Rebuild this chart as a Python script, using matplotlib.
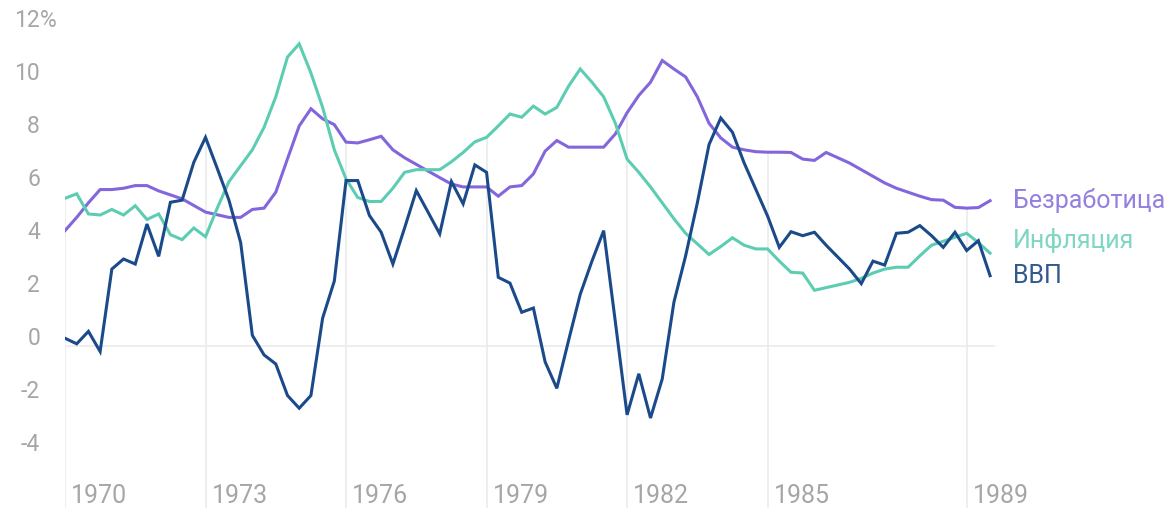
import numpy as np
import matplotlib.pyplot as plt
from matplotlib import transforms

plt.rcParams['font.family'] = ['Roboto', 'DejaVu Sans']

# quarterly, 1970Q1 .. 1989Q4
years = np.arange(1970, 1990)
quarters = np.array([y + q / 4 for y in years for q in range(4)])

unemployment = [
    4.35, 4.85, 5.4, 5.9, 5.9, 5.95, 6.05, 6.05, 5.85, 5.7,
    5.55, 5.3, 5.05, 4.95, 4.85, 4.85, 5.15, 5.2, 5.8, 7.06,
    8.3, 8.95, 8.57, 8.35, 7.69, 7.66, 7.78, 7.91, 7.4, 7.1,
    6.85, 6.6, 6.35, 6.11, 6.0, 6.0, 6.0, 5.65, 6.0, 6.05,
    6.49, 7.35, 7.75, 7.5, 7.5, 7.5, 7.5, 8.0, 8.8, 9.45,
    9.95, 10.77, 10.45, 10.15, 9.4, 8.4, 7.85, 7.5, 7.4, 7.33,
    7.31, 7.31, 7.3, 7.05, 7.0, 7.3, 7.1, 6.9, 6.65, 6.4,
    6.15, 5.95, 5.8, 5.65, 5.52, 5.5, 5.23, 5.2, 5.22, 5.48,
]
inflation = [
    5.57, 5.74, 4.98, 4.94, 5.15, 4.94, 5.29, 4.77, 4.98, 4.2,
    4.01, 4.45, 4.12, 5.2, 6.2, 6.8, 7.4, 8.25, 9.4, 10.9,
    11.4, 10.3, 9.0, 7.4, 6.3, 5.6, 5.45, 5.45, 5.95, 6.55,
    6.65, 6.65, 6.65, 6.95, 7.3, 7.7, 7.87, 8.3, 8.75, 8.63,
    9.05, 8.75, 9.0, 9.8, 10.45, 9.95, 9.4, 8.4, 7.05, 6.55,
    6.0, 5.4, 4.8, 4.25, 3.85, 3.45, 3.75, 4.08, 3.8, 3.66,
    3.66, 3.2, 2.78, 2.75, 2.1, 2.2, 2.3, 2.4, 2.55, 2.75,
    2.9, 2.97, 2.97, 3.4, 3.8, 3.95, 4.1, 4.25, 3.9, 3.5,
]
gdp = [
    0.29, 0.08, 0.55, -0.21, 2.9, 3.28, 3.09, 4.6, 3.38, 5.42,
    5.5, 6.93, 7.87, 6.7, 5.5, 3.9, 0.4, -0.34, -0.68, -1.87,
    -2.35, -1.87, 1.05, 2.45, 6.24, 6.24, 4.92, 4.29, 3.09, 4.45,
    5.86, 5.05, 4.23, 6.2, 5.36, 6.83, 6.55, 2.59, 2.37, 1.27,
    1.43, -0.6, -1.6, 0.2, 1.95, 3.2, 4.35, 0.9, -2.6, -1.05,
    -2.72, -1.25, 1.65, 3.4, 5.4, 7.6, 8.6, 8.06, 6.9, 5.9,
    4.9, 3.72, 4.31, 4.16, 4.29, 3.8, 3.35, 2.9, 2.35, 3.2,
    3.05, 4.25, 4.29, 4.54, 4.16, 3.72, 4.29, 3.6, 3.97, 2.65,
]

names = ['Безработица', 'Инфляция', 'ВВП']
line_colors = ['#8466dc', '#5ccdb2', '#1b4a8a']
text_colors = ['#9480e0', '#7fd6c2', '#33598f']
label_y = [5.51, 4.0, 2.68]

tick_pos = [1970, 1973, 1976, 1979, 1982, 1985, 1989.25]
tick_labels = ['1970', '1973', '1976', '1979', '1982', '1985', '1989']
y_ticks = [12, 10, 8, 6, 4, 2, 0, -2, -4]

W, H = 1176, 510
fig = plt.figure(figsize=(W / 100, H / 100), dpi=100)
ax = fig.add_axes([65 / W, 1.4 / H, 930 / W, 495.6 / H])
ax.set_xlim(1970, 1970 + 930 / 46.84)
ax.set_ylim(-6.1, 12.6)
ax.axis('off')

series = [unemployment, inflation, gdp]
for s, c in zip(series, line_colors):
    ax.plot(quarters, s, color=c, lw=2.2, solid_joinstyle='miter', zorder=3)

grid_c = '#ebebeb'
ax.axhline(0, color=grid_c, lw=1.2, zorder=1)
for t in tick_pos:
    # drop line from the highest series down to the bottom
    top = max(np.interp(t, quarters, s) for s in series)
    ax.vlines(t, -6.1, top, color=grid_c, lw=1.2, zorder=1)

lab_c = '#a6a6a6'
off = transforms.offset_copy(ax.transData, fig=fig, x=6, y=0, units='dots')
for t, lab in zip(tick_pos, tick_labels):
    ax.text(t, -5.62, lab, transform=off, ha='left', va='center',
            fontsize=18, color=lab_c)

ytrans = transforms.blended_transform_factory(fig.transFigure, ax.transData)
for v in y_ticks:
    ax.text(40 / W, v + 0.3, str(v), transform=ytrans, ha='right', va='center',
            fontsize=16.5, color=lab_c, clip_on=False)
ax.text(40 / W, 12.3, '%', transform=ytrans, ha='left', va='center',
        fontsize=16.5, color=lab_c, clip_on=False)

for n, c, y in zip(names, text_colors, label_y):
    ax.text(1013 / W, y, n, transform=ytrans, ha='left', va='center',
            fontsize=18, color=c, clip_on=False)

fig.savefig('out.png', dpi=100)
